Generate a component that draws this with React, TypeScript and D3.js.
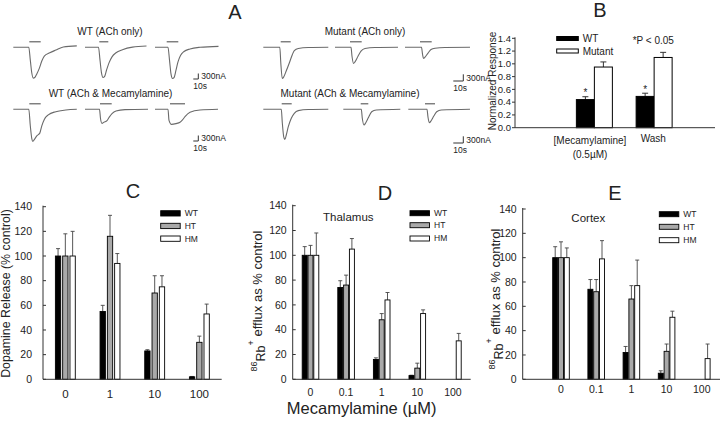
import React from 'react';
import * as d3 from 'd3';

type Pt = [number, number];

const FONT = '"Liberation Sans", Arial, Helvetica, sans-serif';

// ---------------- Panel A: traces (time s, current nA) ----------------
const wtAChOnlyTraces: Pt[][] = [
  [[0,0],[31,0],[34,-700],[37,-1400],[40,-1680],[43,-1650],[47,-1450],[52,-1150],[57,-750],[62,-480],[73,-300],[85,-150],[100,20],[127,80]],
  [[0,0],[27,0],[30,-700],[33,-1400],[36,-1650],[39,-1600],[43,-1250],[48,-850],[54,-520],[62,-300],[75,-130],[95,10],[123,70]],
  [[0,0],[26,0],[29,-700],[32,-1450],[35,-1700],[38,-1650],[42,-1250],[46,-800],[51,-450],[58,-230],[70,-90],[90,0],[127,50]],
];
const wtAChMecTraces: Pt[][] = [
  [[0,0],[31,0],[34,-900],[37,-1600],[39,-1750],[42,-1650],[47,-1450],[53,-1300],[57,-900],[62,-550],[70,-300],[85,-130],[105,-40],[127,0]],
  [[0,0],[29,0],[31,-500],[34,-770],[38,-700],[44,-620],[48,-450],[54,-230],[62,-90],[80,-20],[126,0]],
  [[0,0],[26,0],[28,-600],[33,-820],[42,-780],[50,-710],[55,-580],[60,-400],[70,-165],[90,-40],[126,0]],
];
const mutAChOnlyTraces: Pt[][] = [
  [[0,0],[16.5,0],[17.5,-700],[19,-1400],[20.5,-1320],[23,-1050],[26,-700],[29,-330],[31,-150],[35,-50],[45,-10],[65,0]],
  [[0,0],[16,0],[17,-400],[18.5,-720],[20,-650],[23,-400],[26,-170],[30,-50],[40,-10],[63,0]],
  [[0,0],[16.5,0],[17.5,-300],[18.5,-500],[20,-440],[23,-260],[26,-100],[30,-40],[40,-10],[65,0]],
];
const mutAChMecTraces: Pt[][] = [
  [[0,0],[18,0],[19,-600],[20.5,-1250],[21.5,-1350],[23,-1150],[25,-780],[28,-400],[31,-180],[35,-60],[45,-10],[65,0]],
  [[0,0],[18,0],[19,-400],[20.7,-700],[22.5,-600],[25,-380],[28.4,-110],[33,-30],[57,0]],
  [[0,0],[18.7,0],[19.7,-350],[21,-600],[23,-500],[25.5,-300],[28.4,-110],[33,-30],[61.7,0]],
];
// ACh application bars [start s, end s]
const wtAChOnlyBars: Pt[] = [[32, 54.8], [28.6, 46.6], [23.4, 46.6]];
const wtAChMecBars: Pt[] = [[32, 54.8], [30, 53.4], [30, 60]];
const mutAChOnlyBars: Pt[] = [[17.4, 27.4], [15, 26.7], [15, 26.7]];
const mutAChMecBars: Pt[] = [[18.4, 28.4], [17.4, 25], [16.7, 26.7]];
const traceTitles = ['WT (ACh only)', 'WT (ACh & Mecamylamine)', 'Mutant (ACh only)', 'Mutant (ACh & Mecamylamine)'];
const scaleBarSeconds = 10;
const scaleBarNA = 300;

// ---------------- Panel B ----------------
const bCategories = ['[Mecamylamine]', 'Wash'];
const bWT = [0.44, 0.49];
const bWTErr = [0.045, 0.05];
const bMut = [0.95, 1.10];
const bMutErr = [0.08, 0.08];
const bTicks = [0, 0.2, 0.4, 0.6, 0.8, 1.0, 1.2, 1.4];

// ---------------- Panels C, D, E ----------------
const cdeTicks = [0, 20, 40, 60, 80, 100, 120, 140];
const cDoses = ['0', '1', '10', '100'];
const cWT = [100, 55, 23, 2];
const cWTErr = [6, 5, 1, 0.3];
const cHT = [100, 116, 70, 30];
const cHTErr = [18, 17, 14, 5];
const cHM = [100, 94, 75, 53];
const cHMErr = [20, 8, 9, 8];

const dDoses = ['0', '0.1', '1', '10', '100'];
const dWT = [100, 74, 16, 3, 0];
const dWTErr = [7, 5.5, 1.3, 0.3, 0];
const dHT = [100, 76, 48, 9, 0];
const dHTErr = [8, 8, 5, 4, 0];
const dHM = [100, 105, 64, 53, 31];
const dHMErr = [18, 8.5, 6, 3, 6];

const eDoses = ['0', '0.1', '1', '10', '100'];
const eWT = [100, 74, 22, 5, 0];
const eWTErr = [9, 8, 5, 2, 0];
const eHT = [100, 72, 66, 23, 0];
const eHTErr = [13, 10, 11, 6, 0];
const eHM = [100, 99, 77, 51, 17];
const eHMErr = [8, 15, 21, 5, 12];

const seriesNames = ['WT', 'HT', 'HM'];

const TXT = '#222';

function TraceHalf({ rows, starts, baselines, pxPerSec, pxPerNA, titles, titleX, scaleRight, scaleDrop }: any) {
  const sx = d3.scaleLinear().domain([0, 1]).range([0, pxPerSec]);
  const sy = d3.scaleLinear().domain([0, -1]).range([0, pxPerNA]);
  const els: any[] = [];
  rows.forEach((row: any, r: number) => {
    const base = baselines[r];
    row.traces.forEach((tr: Pt[], i: number) => {
      const x0 = starts[r][i];
      const line = d3.line<Pt>().x(p => x0 + sx(p[0])).y(p => base + sy(p[1])).curve(d3.curveMonotoneX);
      els.push(<path key={`t${r}${i}`} d={line(tr) || ''} fill="none" stroke="#6a6a6a" strokeWidth={1.1} />);
      const b = row.bars[i];
      els.push(<line key={`b${r}${i}`} x1={x0 + sx(b[0])} x2={x0 + sx(b[1])} y1={base - 5.5} y2={base - 5.5} stroke="#555" strokeWidth={1.1} />);
    });
    els.push(<text key={`ti${r}`} x={titleX[r]} y={base - 12} textAnchor="middle" fontSize={10} fontFamily={FONT} fill={TXT}>{titles[r]}</text>);
    // scale bar
    const yb = base + scaleDrop;
    const xr = scaleRight;
    const xl = xr - sx(scaleBarSeconds);
    const yt = yb - sy(-scaleBarNA);
    els.push(<path key={`sb${r}`} d={`M${xl},${yb}H${xr}V${yt}`} fill="none" stroke="#333" strokeWidth={1} />);
    els.push(<text key={`sbt${r}`} x={xr + 3} y={yb} fontSize={8.5} fontFamily={FONT} fill={TXT}>{`${scaleBarNA}nA`}</text>);
    els.push(<text key={`sbs${r}`} x={xl} y={yb + 10} fontSize={8.5} fontFamily={FONT} fill={TXT}>{`${scaleBarSeconds}s`}</text>);
  });
  return <g>{els}</g>;
}

function PanelB() {
  const y = d3.scaleLinear().domain([0, 1.4]).range([127.7, 38.3]);
  const x = d3.scaleBand().domain(bCategories).range([564.5, 684]);
  const sub = d3.scaleBand().domain(['WT', 'Mutant']).range([-18, 18]);
  const ax = 515;
  const els: any[] = [];
  bCategories.forEach((c, i) => {
    const cx = (x(c) as number) + x.bandwidth() / 2;
    const series = [
      { k: 'WT', v: bWT[i], e: bWTErr[i], fill: '#000' },
      { k: 'Mutant', v: bMut[i], e: bMutErr[i], fill: '#fff' },
    ];
    series.forEach(s => {
      const bx = cx + (sub(s.k) as number);
      const w = sub.bandwidth();
      const mx = bx + w / 2;
      els.push(<line key={`e${c}${s.k}`} x1={mx} x2={mx} y1={y(s.v)} y2={y(s.v + s.e)} stroke="#333" strokeWidth={1} />);
      els.push(<line key={`ec${c}${s.k}`} x1={mx - 3} x2={mx + 3} y1={y(s.v + s.e)} y2={y(s.v + s.e)} stroke="#333" strokeWidth={1} />);
      els.push(<rect key={`r${c}${s.k}`} x={bx} y={y(s.v)} width={w} height={y(0) - y(s.v)} fill={s.fill} stroke="#000" strokeWidth={1} />);
      if (s.k === 'WT') {
        els.push(<text key={`st${c}`} x={mx} y={y(s.v + s.e) - 0.5} textAnchor="middle" fontSize={10} fontFamily={FONT} fill={TXT}>*</text>);
      }
    });
  });
  const labelX = [590, 653.3];
  return (
    <g>
      {els}
      <line x1={ax} x2={ax} y1={y(0)} y2={y(1.4) - 1} stroke="#333" />
      <line x1={ax} x2={715} y1={y(0)} y2={y(0)} stroke="#333" />
      {bTicks.map(t => (
        <g key={t}>
          <line x1={ax - 3} x2={ax} y1={y(t)} y2={y(t)} stroke="#333" />
          <text x={ax - 4} y={y(t)} dy="0.35em" textAnchor="end" fontSize={9.5} fontFamily={FONT} fill={TXT}>{d3.format('.1f')(t)}</text>
        </g>
      ))}
      <text transform={`translate(496,81) rotate(-90)`} textAnchor="middle" fontSize={10} fontFamily={FONT} fill={TXT}>Normalized Response</text>
      <text x={labelX[0]} y={143.5} textAnchor="middle" fontSize={10} fontFamily={FONT} fill={TXT}>{bCategories[0]}</text>
      <text x={labelX[0]} y={157.5} textAnchor="middle" fontSize={10} fontFamily={FONT} fill={TXT}>(0.5µM)</text>
      <text x={labelX[1]} y={142} textAnchor="middle" fontSize={10} fontFamily={FONT} fill={TXT}>{bCategories[1]}</text>
      <rect x={556.7} y={36.5} width={21.6} height={4} fill="#000" stroke="#000" />
      <text x={582.7} y={38.5} dy="0.35em" fontSize={10} fontFamily={FONT} fill={TXT}>WT</text>
      <rect x={556.7} y={49} width={21.6} height={4} fill="#fff" stroke="#000" />
      <text x={582.7} y={51} dy="0.35em" fontSize={10} fontFamily={FONT} fill={TXT}>Mutant</text>
      <text x={632.7} y={40} dy="0.35em" fontSize={10} fontFamily={FONT} fill={TXT}>*P &lt; 0.05</text>
    </g>
  );
}

function GroupedPanel({ doses, vals, errs, xRange, axisX0, axisX1, y0, y140, subHalf, subPad, tickGap, catFont, catY, legendX, legendY, legendH, tissue }: any) {
  const y = d3.scaleLinear().domain([0, 140]).range([y0, y140]);
  const x = d3.scaleBand().domain(doses).range(xRange);
  const sub = d3.scaleBand().domain(seriesNames).range([-subHalf, subHalf]).paddingInner(subPad);
  const fills = ['#000', '#a9a9a9', '#fff'];
  const els: any[] = [];
  doses.forEach((d: string, i: number) => {
    const cx = (x(d) as number) + x.bandwidth() / 2;
    seriesNames.forEach((s, k) => {
      const v = vals[k][i];
      const e = errs[k][i];
      if (v <= 0) return;
      const bx = cx + (sub(s) as number);
      const w = sub.bandwidth();
      const mx = bx + w / 2;
      if (e > 0) {
        els.push(<line key={`e${d}${s}`} x1={mx} x2={mx} y1={y(v)} y2={y(v + e)} stroke="#444" strokeWidth={0.9} />);
        els.push(<line key={`ec${d}${s}`} x1={mx - 2} x2={mx + 2} y1={y(v + e)} y2={y(v + e)} stroke="#444" strokeWidth={0.9} />);
      }
      els.push(<rect key={`r${d}${s}`} x={bx} y={y(v)} width={w} height={y(0) - y(v)} fill={fills[k]} stroke="#000" strokeWidth={0.9} />);
    });
    els.push(<text key={`c${d}`} x={cx} y={catY} textAnchor="middle" fontSize={catFont} fontFamily={FONT} fill={TXT}>{d}</text>);
  });
  return (
    <g>
      {els}
      <line x1={axisX0} x2={axisX0} y1={y(0)} y2={y(140) - 1} stroke="#333" />
      <line x1={axisX0} x2={axisX1} y1={y(0)} y2={y(0)} stroke="#333" />
      {cdeTicks.map(t => (
        <g key={t}>
          <line x1={axisX0} x2={axisX0 + 3} y1={y(t)} y2={y(t)} stroke="#333" />
          <text x={axisX0 - tickGap} y={y(t)} dy="0.35em" textAnchor="end" fontSize={10.5} fontFamily={FONT} fill={TXT}>{t}</text>
        </g>
      ))}
      {seriesNames.map((s, k) => (
        <g key={s}>
          <rect x={legendX} y={legendY[k]} width={19.5} height={legendH} fill={fills[k]} stroke="#000" strokeWidth={0.9} />
          <text x={legendX + 24} y={legendY[k] + legendH / 2} dy="0.35em" fontSize={8.5} fontFamily={FONT} fill={TXT}>{s}</text>
        </g>
      ))}
      {tissue ? <text x={tissue.x} y={tissue.y} dy="0.35em" textAnchor="middle" fontSize={11.5} fontFamily={FONT} fill={TXT}>{tissue.label}</text> : null}
    </g>
  );
}

function RbLabel({ x, y }: { x: number; y: number }) {
  return (
    <text transform={`translate(${x},${y}) rotate(-90)`} textAnchor="middle" fontFamily={FONT} fill={TXT} fontSize={13}>
      <tspan fontSize={9} dy={-5}>86</tspan>
      <tspan fontSize={12.5} dy={8}>Rb</tspan>
      <tspan fontSize={9} dy={-11}>+</tspan>
      <tspan dy={8}> efflux as % control</tspan>
    </text>
  );
}

export default function App() {
  return (
    <svg width={720} height={425} style={{ position: 'absolute', left: 0, top: 0, background: '#fff' }}>
      <rect width={720} height={425} fill="#fff" />
      {[['A', 235, 19], ['B', 600, 17], ['C', 133, 198], ['D', 385, 200], ['E', 615, 200]].map(([l, x, yy]) => (
        <text key={l as string} x={x as number} y={yy as number} textAnchor="middle" fontSize={20} fontFamily={FONT} fill={TXT}>{l}</text>
      ))}
      <TraceHalf
        rows={[{ traces: wtAChOnlyTraces, bars: wtAChOnlyBars }, { traces: wtAChMecTraces, bars: wtAChMecBars }]}
        starts={[[13.3, 85, 155], [13.3, 85, 155]]}
        baselines={[47.3, 109.3]}
        pxPerSec={0.5}
        pxPerNA={5.5 / 300}
        titles={[traceTitles[0], traceTitles[1]]}
        titleX={[110, 110.5]}
        scaleRight={198.3}
        scaleDrop={31.7}
      />
      <TraceHalf
        rows={[{ traces: mutAChOnlyTraces, bars: mutAChOnlyBars }, { traces: mutAChMecTraces, bars: mutAChMecBars }]}
        starts={[[263.3, 335, 405], [263.3, 343.3, 408.3]]}
        baselines={[47.3, 109.3]}
        pxPerSec={1}
        pxPerNA={6.7 / 300}
        titles={[traceTitles[2], traceTitles[3]]}
        titleX={[365, 350]}
        scaleRight={463.3}
        scaleDrop={33.7}
      />
      <PanelB />
      <GroupedPanel
        doses={cDoses}
        vals={[cWT, cHT, cHM]}
        errs={[cWTErr, cHTErr, cHMErr]}
        xRange={[43, 221.7]}
        axisX0={43}
        axisX1={221.7}
        y0={379.3}
        y140={206.7}
        subHalf={9.95}
        subPad={0.27}
        tickGap={11}
        catFont={11.5}
        catY={398}
        legendX={160.7}
        legendY={[210.7, 223.3, 236]}
        legendH={5.3}
      />
      <text transform="translate(10,293.5) rotate(-90)" textAnchor="middle" fontSize={12.4} fontFamily={FONT} fill={TXT}>Dopamine Release (% control)</text>
      <GroupedPanel
        doses={dDoses}
        vals={[dWT, dHT, dHM]}
        errs={[dWTErr, dHTErr, dHMErr]}
        xRange={[292.7, 470.7]}
        axisX0={292.7}
        axisX1={470.7}
        y0={379.3}
        y140={205.7}
        subHalf={8.3}
        subPad={0.14}
        tickGap={6}
        catFont={10.5}
        catY={395.5}
        legendX={410}
        legendY={[210.7, 222.7, 236]}
        legendH={5}
        tissue={{ label: 'Thalamus', x: 348.3, y: 216.7 }}
      />
      <RbLabel x={262} y={301} />
      <GroupedPanel
        doses={eDoses}
        vals={[eWT, eHT, eHM]}
        errs={[eWTErr, eHTErr, eHMErr]}
        xRange={[543.4, 719.4]}
        axisX0={522.7}
        axisX1={720}
        y0={379.3}
        y140={209}
        subHalf={8.3}
        subPad={0.14}
        tickGap={6}
        catFont={10.5}
        catY={393}
        legendX={659.3}
        legendY={[211.7, 224.3, 237.7]}
        legendH={5}
        tissue={{ label: 'Cortex', x: 588.3, y: 218.3 }}
      />
      <RbLabel x={500} y={299} />
      <text x={361.7} y={414} textAnchor="middle" fontSize={16.5} fontFamily={FONT} fill={TXT}>Mecamylamine (µM)</text>
    </svg>
  );
}
